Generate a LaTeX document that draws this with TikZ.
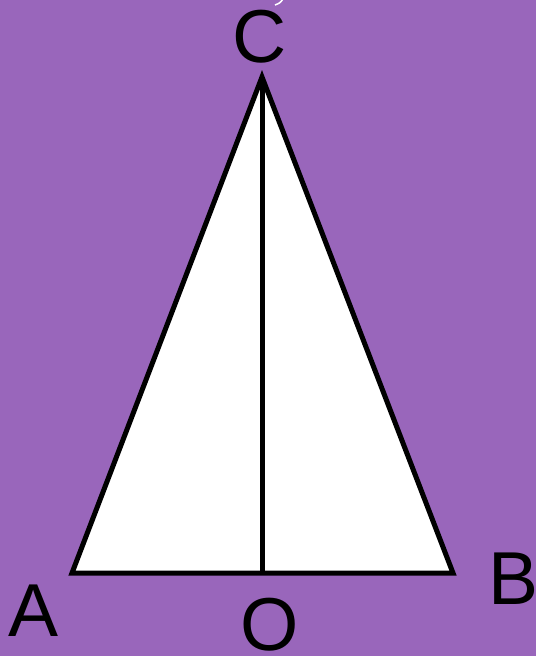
\documentclass[tikz,border=0pt]{standalone}
\usepackage{fontspec}
\setmainfont{Liberation Sans}
\usepackage{xcolor}
\definecolor{bgpurple}{HTML}{9966BB}

\begin{document}
\begin{tikzpicture}[
      x=1pt, y=-1pt,
      edge/.style={draw=black, line width=5pt, line join=miter},
      lbl/.style={font=\fontsize{75}{75}\selectfont, inner sep=0pt, text=black}
    ]
    \fill[bgpurple] (0,0) rectangle (536,656);
    \useasboundingbox (0,0) rectangle (536,656);
    \coordinate (A) at (72,573);
    \coordinate (B) at (453,573);
    \coordinate (C) at (262,77);
    \coordinate (O) at (262,573);
    \filldraw[edge, fill=white] (A) -- (B) -- (C) -- cycle;
    \draw[edge] (C) -- (O);
    \node[lbl] (lc) at (260,37) {C};
    \node[lbl] (la) at (34,611) {A};
    \node[lbl] (lo) at (270,625) {O};
    \node[lbl] (lb) at (514,579) {B};
    % cut-off mark at the top
    \draw[white, line width=1.5pt] (275,5) .. controls (280,3) .. (283,-1);
  \end{tikzpicture}
\end{document}
